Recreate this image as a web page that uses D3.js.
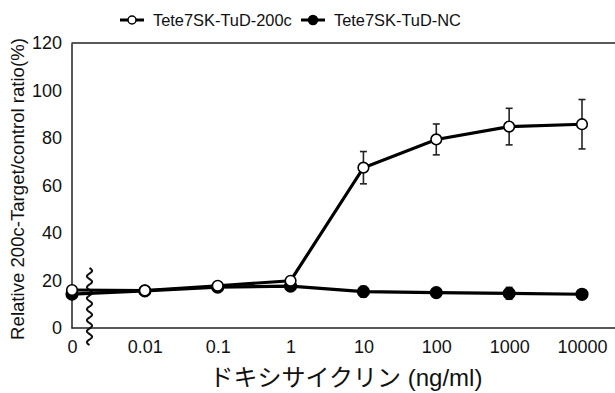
<!DOCTYPE html>
<html>
<head>
<meta charset="utf-8">
<script src="https://cdn.jsdelivr.net/npm/d3@7"></script>
<style>
  html, body { margin: 0; padding: 0; background: #fff; }
  svg { display: block; }
  text { font-family: "Liberation Sans", Arial, "Noto Sans CJK JP", sans-serif; fill: #111; }
</style>
</head>
<body>
<svg id="chart" width="615" height="393"></svg>
<script>
const xLabels = ["0", "0.01", "0.1", "1", "10", "100", "1000", "10000"];
const yTicks = [0, 20, 40, 60, 80, 100, 120];
const series200cName = "Tete7SK-TuD-200c";
const seriesNCName = "Tete7SK-TuD-NC";
const values200c = [16.0, 15.8, 17.8, 19.9, 67.5, 79.4, 84.8, 85.8];
const err200c    = [0, 0, 0, 0, 6.8, 6.5, 7.7, 10.4];
const valuesNC   = [14.3, 15.6, 17.2, 17.6, 15.3, 14.9, 14.6, 14.2];
const errNC      = [0, 0, 0, 0, 2.2, 1.0, 2.5, 0.8];
const yTitle = "Relative 200c-Target/control ratio(%)";
const xTitle = "ドキシサイクリン (ng/ml)";

const svg = d3.select("#chart");
const mLeft = 71.5, mTop = 43, mBottom = 328, mRight = 615;

const x = d3.scalePoint().domain(xLabels).range([72, 582]);
const y = d3.scaleLinear().domain([0, 120]).range([mBottom, mTop]);

// frame lines
svg.append("line").attr("x1", mLeft).attr("x2", mRight).attr("y1", mTop).attr("y2", mTop)
  .attr("stroke", "#222").attr("stroke-width", 1.5);
svg.append("line").attr("x1", mLeft).attr("x2", mRight).attr("y1", mBottom).attr("y2", mBottom)
  .attr("stroke", "#222").attr("stroke-width", 1.5);

// y axis
const yAxis = svg.append("g").attr("transform", `translate(${mLeft},0)`)
  .call(d3.axisLeft(y).tickValues(yTicks).tickSize(0).tickPadding(9.5));
yAxis.select(".domain").attr("stroke", "#222").attr("stroke-width", 1.5);
yAxis.selectAll("text").style("font-size", "18px").attr("fill", "#111");

// x axis
const xAxis = svg.append("g").attr("transform", `translate(0,${mBottom})`)
  .call(d3.axisBottom(x).tickSize(0).tickPadding(12));
xAxis.select(".domain").remove();
xAxis.selectAll("text").style("font-size", "18px").attr("fill", "#111");

// titles
svg.append("text").attr("transform", "translate(24,189) rotate(-90)")
  .attr("text-anchor", "middle").style("font-size", "18.6px").text(yTitle);
svg.append("text").attr("x", 346).attr("y", 386)
  .attr("text-anchor", "middle").style("font-size", "24px").text(xTitle);

// axis break squiggle
const breakX = 89.5, y0b = 268, y1b = 345;
const brk = d3.range(0, 1.0001, 1 / 120).map(t => {
  const yy = y0b + t * (y1b - y0b);
  return [breakX + 2.6 * Math.sin(t * Math.PI * 2 * 7), yy];
});
svg.append("path").attr("d", d3.line()(brk)).attr("fill", "none")
  .attr("stroke", "#111").attr("stroke-width", 2);

function drawSeries(vals, errs, filled) {
  const pts = vals.map((v, i) => ({ x: x(xLabels[i]), v, e: errs[i] }));
  const g = svg.append("g");
  pts.filter(p => p.e > 0).forEach(p => {
    const ya = y(p.v + p.e), yb = y(p.v - p.e);
    g.append("line").attr("x1", p.x).attr("x2", p.x).attr("y1", ya).attr("y2", yb)
      .attr("stroke", "#222").attr("stroke-width", 1.6);
    [ya, yb].forEach(yy => g.append("line").attr("x1", p.x - 3.5).attr("x2", p.x + 3.5)
      .attr("y1", yy).attr("y2", yy).attr("stroke", "#222").attr("stroke-width", 1.6));
  });
  g.append("path").datum(pts)
    .attr("d", d3.line().x(d => d.x).y(d => y(d.v)))
    .attr("fill", "none").attr("stroke", "#000").attr("stroke-width", 3.2);
  g.selectAll("circle").data(pts).join("circle")
    .attr("cx", d => d.x).attr("cy", d => y(d.v)).attr("r", filled ? 5.8 : 5.3)
    .attr("fill", filled ? "#000" : "#fff").attr("stroke", "#000").attr("stroke-width", 1.6);
}
drawSeries(valuesNC, errNC, true);
drawSeries(values200c, err200c, false);

// legend
const legend = [
  { name: series200cName, filled: false, x0: 120 },
  { name: seriesNCName, filled: true, x0: 301 }
];
legend.forEach(l => {
  svg.append("line").attr("x1", l.x0).attr("x2", l.x0 + 24).attr("y1", 20).attr("y2", 20)
    .attr("stroke", "#000").attr("stroke-width", 3);
  svg.append("circle").attr("cx", l.x0 + 12).attr("cy", 20).attr("r", l.filled ? 4.5 : 4)
    .attr("fill", l.filled ? "#000" : "#fff").attr("stroke", "#000").attr("stroke-width", 1.5);
  svg.append("text").attr("x", l.x0 + 33).attr("y", 26).style("font-size", "16.4px").text(l.name);
});
</script>
</body>
</html>
